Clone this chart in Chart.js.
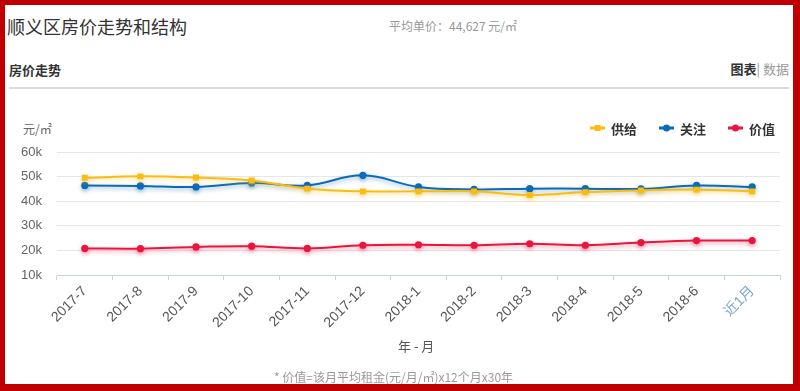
<!DOCTYPE html>
<html><head><meta charset="utf-8">
<script src="https://cdn.jsdelivr.net/npm/chart.js@4.4.1/dist/chart.umd.min.js"></script>
<style>
html,body{margin:0;padding:0;background:#fff;}
#frame{position:relative;width:800px;height:391px;overflow:hidden;background:#fff;}
.b{position:absolute;background:#c00000;}
.t{position:absolute;white-space:nowrap;line-height:1;font-family:"Noto Sans CJK SC","Liberation Sans",sans-serif;}
#cv{position:absolute;left:0;top:95px;}
</style></head>
<body>
<div id="frame">
  <div class="t" style="left:7px;top:17px;font-size:18px;color:#333;">顺义区房价走势和结构</div>
  <div class="t" style="left:389px;top:20px;font-size:12px;color:#999;">平均单价：44,627 元/㎡</div>
  <div class="t" style="left:9px;top:63px;font-size:13px;font-weight:bold;color:#333;">房价走势</div>
  <div class="t" style="right:11px;top:62px;font-size:13px;color:#999;"><b style="color:#333;">图表</b>| 数据</div>
  <div style="position:absolute;left:9px;top:87px;width:780px;height:2px;background:#d8dbe2;"></div>
  <div class="t" style="left:23px;top:123px;font-size:12px;color:#666;">元/㎡</div>
  <canvas id="cv" width="800" height="270"></canvas>
  <div class="t" style="left:398px;top:339px;font-size:13px;color:#555;">年 - 月</div>
  <div class="t" style="left:274px;top:371px;font-size:12px;color:#999;">* 价值=该月平均租金(元/月/㎡)x12个月x30年</div>
  <div class="b" style="left:0;top:0;width:800px;height:5px;"></div>
  <div class="b" style="left:0;top:0;width:5px;height:391px;"></div>
  <div class="b" style="left:793px;top:0;width:7px;height:391px;"></div>
  <div class="b" style="left:0;top:384px;width:800px;height:7px;"></div>
</div>
<script>
const categories = ["2017-7","2017-8","2017-9","2017-10","2017-11","2017-12","2018-1","2018-2","2018-3","2018-4","2018-5","2018-6","近1月"];
const supplyValues = [49500,50100,49600,48400,45100,44000,44000,44000,42500,43700,44400,44700,44000];
const attentionValues = [46400,46200,45800,47400,46400,50500,45800,44800,45100,45100,45000,46400,45800];
const valueValues = [20800,20700,21400,21700,20800,22100,22300,22100,22700,22100,23200,24000,24000];
const seriesNames = ["供给","关注","价值"];
const yTicks = [10000,20000,30000,40000,50000,60000];

const colors = ["#fbbc12","#0d6ab6","#e8163f"];
const shadows = ["rgba(251,188,18,0.45)","rgba(13,106,182,0.45)","rgba(232,22,63,0.45)"];

const glow = {
  id:'glow',
  beforeDatasetDraw(chart, args){
    const ctx = chart.ctx; ctx.save();
    ctx.shadowColor = shadows[args.index];
    ctx.shadowBlur = 4; ctx.shadowOffsetY = 2;
  },
  afterDatasetDraw(chart){ chart.ctx.restore(); }
};

const legendPlugin = {
  id:'customLegend',
  afterDraw(chart){
    const ctx = chart.ctx;
    const y = 33;
    let x = 590;
    ctx.save();
    ctx.font = 'bold 13px "Noto Sans CJK SC", sans-serif';
    ctx.textBaseline = 'middle';
    chart.data.datasets.forEach((ds, i) => {
      ctx.strokeStyle = ds.borderColor; ctx.lineWidth = 3;
      ctx.beginPath(); ctx.moveTo(x, y); ctx.lineTo(x + 15, y); ctx.stroke();
      ctx.fillStyle = ds.borderColor;
      if (ds.pointStyle === 'rect') { ctx.fillRect(x + 4.5, y - 3, 6, 6); }
      else { ctx.beginPath(); ctx.arc(x + 7.5, y, 3.5, 0, Math.PI * 2); ctx.fill(); }
      ctx.fillStyle = '#333';
      ctx.fillText(ds.label, x + 21, y + 1);
      const w = ctx.measureText(ds.label).width;
      x += 21 + w + 22;
    });
    ctx.restore();
  }
};

const mk = (label, data, i, style, r) => ({
  label, data, borderColor: colors[i], backgroundColor: colors[i],
  pointBackgroundColor: colors[i], pointBorderColor: colors[i],
  borderWidth: 2, pointStyle: style, pointRadius: r, pointBorderWidth: 0,
  tension: 0.4, fill: false
});

new Chart(document.getElementById('cv'), {
  type: 'line',
  data: {
    labels: categories,
    datasets: [
      mk(seriesNames[0], supplyValues, 0, 'rect', 4.2),
      mk(seriesNames[1], attentionValues, 1, 'circle', 3.6),
      mk(seriesNames[2], valueValues, 2, 'circle', 3.6)
    ]
  },
  options: {
    responsive: false, animation: false,
    layout: { padding: { left: 0, right: 20, top: 57, bottom: 0 } },
    plugins: { legend: { display: false }, tooltip: { enabled: false } },
    scales: {
      x: {
        offset: true,
        grid: { display: true, drawOnChartArea: false, offset: true, tickLength: 5, color: '#c8d2e6' },
        border: { display: true, color: '#c8d2e6', width: 1 },
        ticks: {
          autoSkip: false, minRotation: 45, maxRotation: 45, padding: 3,
          font: { family: '"Liberation Sans","Noto Sans CJK SC",sans-serif', size: 14 },
          color: (c) => c.index === categories.length - 1 ? '#7fa6cc' : '#555'
        },
        afterFit(s){ s.height = 90; }
      },
      y: {
        min: 10000, max: 60000,
        afterBuildTicks(s){ s.ticks = yTicks.map(v => ({ value: v })); },
        grid: { color: '#e6e6e6', drawTicks: false, lineWidth: 1 },
        border: { display: false },
        ticks: {
          padding: 15,
          font: { family: '"Liberation Sans",sans-serif', size: 13 },
          color: '#666',
          callback: (v) => (v / 1000) + 'k'
        },
        afterFit(s){ s.width = 57; }
      }
    }
  },
  plugins: [glow, legendPlugin]
});
</script>
</body></html>
